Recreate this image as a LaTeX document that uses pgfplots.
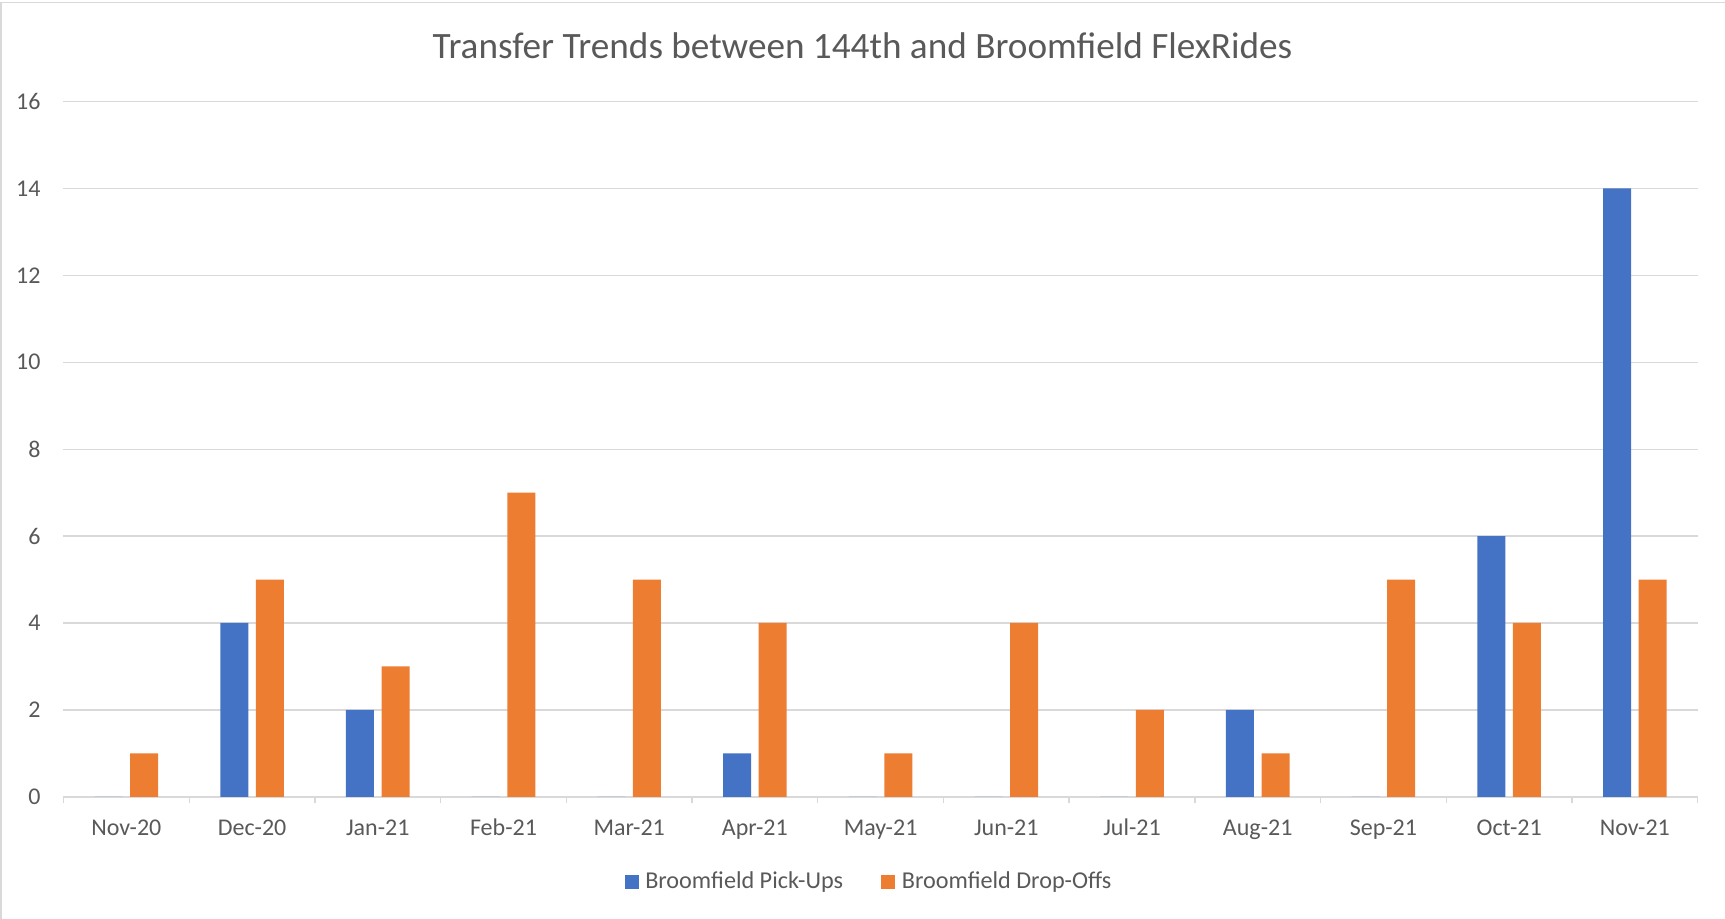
\documentclass[border=0pt]{standalone}
\usepackage{fontspec}
\setmainfont{Carlito}
\usepackage{pgfplots}
\pgfplotsset{compat=1.18}
\definecolor{pickblue}{HTML}{4472C4}
\definecolor{droporange}{HTML}{ED7D31}
\definecolor{txtgray}{HTML}{595959}
\definecolor{gridgray}{HTML}{D9D9D9}
\pgfplotsset{sqlegend/.style={legend image code/.code={\fill[##1] (0pt,-3.5pt) rectangle (7pt,3.5pt);}}}
\begin{document}
\begin{tikzpicture}
\path[use as bounding box] (-31.75pt,-60.6pt) rectangle (830.75pt,398.4pt);
\draw[gridgray, line width=0.7pt] (-31.25pt,-80pt) -- (-31.25pt,397.05pt) -- (850pt,397.05pt);
\begin{axis}[
  at={(0pt,0pt)}, anchor=south west,
  scale only axis,
  width=817.1pt, height=347.65pt,
  xmin=-0.5, xmax=12.5,
  ymin=0, ymax=16,
  xtick={0,...,12},
  xticklabels={Nov-20,Dec-20,Jan-21,Feb-21,Mar-21,Apr-21,May-21,Jun-21,Jul-21,Aug-21,Sep-21,Oct-21,Nov-21},
  minor xtick={-0.5,0.5,...,12.5},
  ytick={0,2,...,16},
  axis x line*=bottom,
  axis y line*=left,
  x axis line style={gridgray, line width=0.75pt, -},
  y axis line style={draw=none},
  major x tick style={draw=none},
  major y tick style={draw=none},
  minor x tick style={draw=gridgray, line width=0.7pt},
  minor tick length=3.3pt,
  tick align=outside,
  ymajorgrids,
  grid style={gridgray, line width=0.65pt},
  /pgf/number format/assume math mode=true,
  xticklabel style={font=\fontsize{12}{14}\selectfont, text=txtgray, anchor=base, yshift=-15.1pt},
  yticklabel style={font=\fontsize{12}{14}\selectfont, text=txtgray, anchor=east, inner sep=0pt, xshift=-7pt},
  legend style={at={(0.4923,-0.1225)}, anchor=center, draw=none, fill=none,
    legend columns=2, font=\fontsize{12.1}{14}\selectfont, text=txtgray,
    nodes={inner sep=0pt},
    /tikz/every odd column/.append style={column sep=3.35pt},
    /tikz/every even column/.append style={column sep=19pt}},
  ybar, bar width=14pt,
]
\addplot[fill=pickblue, draw=none, bar shift=-8.9pt, sqlegend] coordinates {
(0,0) (1,4) (2,2) (3,0) (4,0) (5,1) (6,0) (7,0) (8,0) (9,2) (10,0) (11,6) (12,14)};
\addlegendentry{Broomfield Pick-Ups}
\addplot[fill=droporange, draw=none, bar shift=8.9pt, sqlegend] coordinates {
(0,1) (1,5) (2,3) (3,7) (4,5) (5,4) (6,1) (7,4) (8,2) (9,1) (10,5) (11,4) (12,5)};
\addlegendentry{Broomfield Drop-Offs}
\end{axis}
\node[anchor=base, text=txtgray, font=\fontsize{18.6}{22}\selectfont, inner sep=0pt] at (399.5pt,369.25pt) {Transfer Trends between 144th and Broomfield FlexRides};
\end{tikzpicture}
\end{document}
